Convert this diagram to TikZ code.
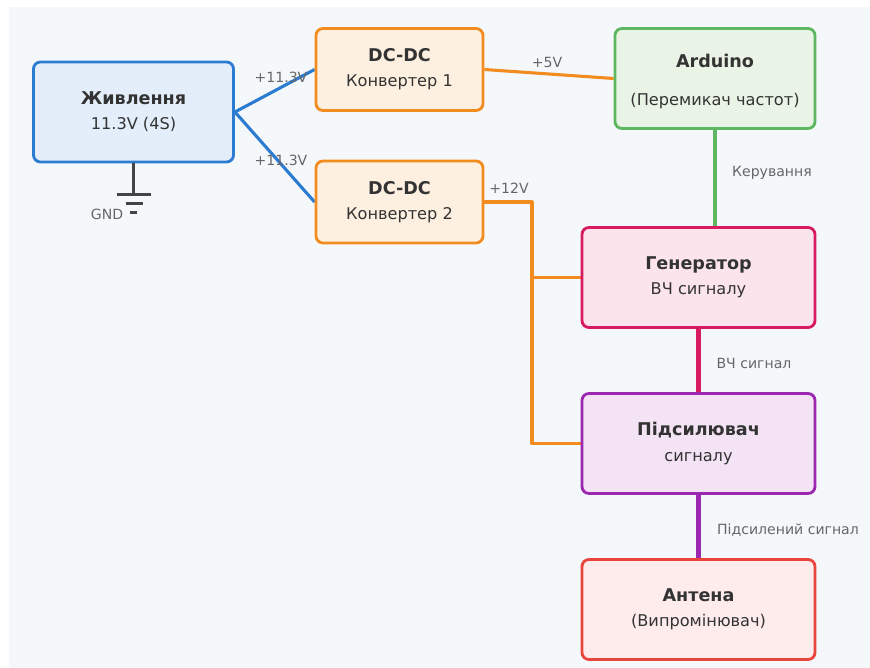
\documentclass[tikz,border=0pt]{standalone}
\usepackage{fontspec}
\setmainfont{DejaVu Sans}
\usetikzlibrary{positioning, calc, backgrounds}

\definecolor{bgcol}{HTML}{F5F8FB}
\definecolor{pwrline}{HTML}{2B7BD0}
\definecolor{pwrfill}{HTML}{E3EEFA}
\definecolor{dcline}{HTML}{F28C1E}
\definecolor{dcfill}{HTML}{FEF0E1}
\definecolor{ardline}{HTML}{5DB760}
\definecolor{ardfill}{HTML}{EAF4E6}
\definecolor{genline}{HTML}{D81B60}
\definecolor{genfill}{HTML}{FBE4EC}
\definecolor{ampline}{HTML}{9C27B0}
\definecolor{ampfill}{HTML}{F3E3F5}
\definecolor{antline}{HTML}{E8453C}
\definecolor{antfill}{HTML}{FEEBEC}
\definecolor{txtdark}{HTML}{333333}
\definecolor{txtgray}{HTML}{666666}
\definecolor{gndcol}{HTML}{444444}

\newcommand{\boxtitle}[1]{{\fontsize{12.5}{14}\selectfont\bfseries #1}}

\begin{document}
\begin{tikzpicture}[
  x=0.025cm, y=-0.025cm,
  box/.style={draw, rounded corners=5pt, line width=2pt, align=center,
              text=txtdark, font=\fontsize{11.5}{18}\selectfont, inner sep=0pt},
  wide/.style={minimum width=5cm, minimum height=2.5cm},
  dcbox/.style={box, draw=dcline, fill=dcfill, minimum width=4.175cm, minimum height=2.05cm},
  blockbox/.style={box, minimum width=5.825cm, minimum height=2.5cm},
  wire/.style={line width=2.2pt, line join=round},
  sigwire/.style={line width=3pt},
  lbl/.style={font=\fontsize{10}{11}\selectfont, text=txtgray},
]
\useasboundingbox (0,0) rectangle (870,668);

% Power
\node[box, wide, draw=pwrline, fill=pwrfill] (pwr) at (133.5,112) {\boxtitle{Живлення}\\11.3V (4S)};

% DC-DC converters
\node[dcbox] (dc1) at (399.5,69.5) {\boxtitle{DC-DC}\\Конвертер 1};
\node[dcbox] (dc2) at (399.5,202) {\boxtitle{DC-DC}\\Конвертер 2};

% Arduino
\node[box, wide, draw=ardline, fill=ardfill] (ard) at (715,78.5) {\rule{0pt}{14pt}\boxtitle{Arduino}\\[9pt](Перемикач частот)};

% RF chain
\node[blockbox, draw=genline, fill=genfill] (gen) at (698.5,277.5) {\boxtitle{Генератор}\\ВЧ сигналу};
\node[blockbox, draw=ampline, fill=ampfill] (amp) at (698.5,443.5) {\boxtitle{Підсилювач}\\сигналу};
\node[blockbox, draw=antline, fill=antfill] (ant) at (698.5,609.5) {\boxtitle{Антена}\\(Випромінювач)};

\begin{scope}[on background layer]
\fill[white] (0,0) rectangle (870,668);
\fill[bgcol] (9,7) rectangle (870,668);

% Power lines
\draw[wire, pwrline] (pwr.east) -- (dc1.west);
\draw[wire, pwrline] (pwr.east) -- (dc2.west);
\draw[wire, dcline] (dc1.east) -- (ard.west);
\coordinate (bus) at (532,202);
\draw[wire, dcline] (dc2.east) -- (bus) |- (amp.west);
\draw[wire, dcline] (bus |- gen.west) -- (gen.west);

% Signal lines
\draw[wire, ardline] (ard.south) -- (ard.south |- gen.north);
\draw[sigwire, genline] (gen.south) -- (amp.north);
\draw[sigwire, ampline] (amp.south) -- (ant.north);
\end{scope}

\node[lbl] (v1) at (281,77) {+11.3V};
\node[lbl] (v2) at (281,160) {+11.3V};
\node[lbl] (v5) at (547,62) {+5V};
\node[lbl] (v12) at (509,188) {+12V};
\node[lbl] (ctl) at (772,173) {Керування};
\node[lbl] (rf) at (754,363) {ВЧ сигнал};
\node[lbl] (amprf) at (788,530) {Підсилений сигнал};

% Ground
\draw[gndcol, line width=1.7pt] (pwr.south) -- ++(0,31) coordinate (g0);
\draw[gndcol, line width=1.8pt] ($(g0)+(-17,0)$) -- ++(34,0);
\draw[gndcol, line width=1.8pt] ($(g0)+(-8,9)$) -- ++(17,0);
\draw[gndcol, line width=1.8pt] ($(g0)+(-3.5,18)$) -- ++(7,0);
\node[lbl] (gnd) at (107,214) {GND};
\end{tikzpicture}
\end{document}
